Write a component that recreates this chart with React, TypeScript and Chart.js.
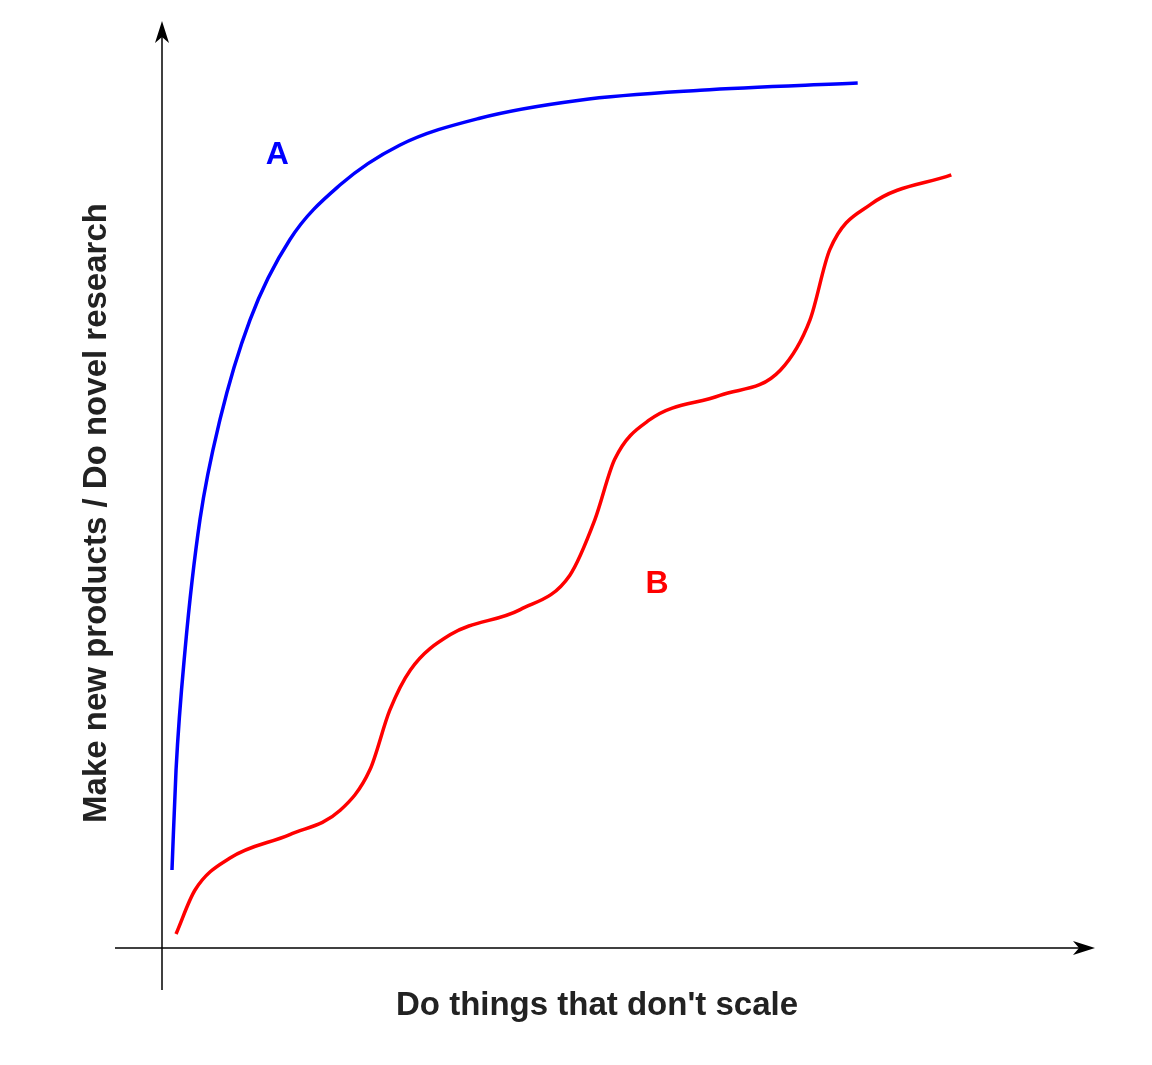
import React, { useEffect, useRef } from "react";
import { Chart, registerables } from "chart.js";
Chart.register(...registerables);

const blueX = [1.11, 1.56, 2.56, 4.22, 6.44, 9.78, 14.2, 19.8, 26.4, 35.3, 46.4, 59.8, 77.3];
const blueY = [8.67, 19.78, 33.1, 47.6, 58.7, 69.8, 78.7, 84.8, 89.2, 92.2, 94.2, 95.3, 96.1];
const redX = [1.56, 3.67, 7.56, 14.2, 19.8, 23.1, 25.3, 27.6, 32.0, 39.8, 45.3, 48.1, 50.3, 54.2, 62.0, 68.7, 72.0, 74.2, 78.7, 87.7];
const redY = [1.56, 6.44, 10.0, 12.6, 15.3, 19.8, 26.4, 30.9, 34.8, 37.6, 41.4, 47.6, 54.3, 58.7, 61.4, 64.2, 69.8, 77.6, 82.6, 85.9];
const xTitle = "Do things that don't scale";
const yTitle = "Make new products / Do novel research";
const labels = [
  { text: "A", x: 12.8, y: 88.1, color: "#0000ff" },
  { text: "B", x: 55.0, y: 40.4, color: "#ff0000" },
];

const pts = (xs: number[], ys: number[]) => xs.map((x, i) => ({ x, y: ys[i] }));

const decor = {
  id: "decor",
  afterDraw(chart: any) {
    const ctx = chart.ctx;
    const xs = chart.scales.x, ys = chart.scales.y;
    const ox = xs.getPixelForValue(0), oy = ys.getPixelForValue(0);
    ctx.save();
    ctx.strokeStyle = "#000"; ctx.fillStyle = "#000"; ctx.lineWidth = 1.5;
    ctx.beginPath(); ctx.moveTo(115, oy); ctx.lineTo(1090, oy); ctx.stroke();
    ctx.beginPath(); ctx.moveTo(ox, 990); ctx.lineTo(ox, 26); ctx.stroke();
    ctx.beginPath(); ctx.moveTo(1095, oy); ctx.lineTo(1073, oy - 7); ctx.lineTo(1079, oy); ctx.lineTo(1073, oy + 7); ctx.closePath(); ctx.fill();
    ctx.beginPath(); ctx.moveTo(ox, 21); ctx.lineTo(ox - 7, 43); ctx.lineTo(ox, 37); ctx.lineTo(ox + 7, 43); ctx.closePath(); ctx.fill();
    ctx.fillStyle = "#222";
    ctx.font = "bold 33px 'Liberation Sans', Arial, sans-serif";
    ctx.textAlign = "center"; ctx.textBaseline = "middle";
    ctx.fillText(xTitle, 597, 1006);
    ctx.save(); ctx.translate(97, 513); ctx.rotate(-Math.PI / 2); ctx.fillText(yTitle, 0, 0); ctx.restore();
    ctx.font = "bold 32px 'Liberation Sans', Arial, sans-serif";
    for (const l of labels) { ctx.fillStyle = l.color; ctx.fillText(l.text, xs.getPixelForValue(l.x), ys.getPixelForValue(l.y)); }
    ctx.restore();
  },
};

export default function App() {
  const ref = useRef<HTMLCanvasElement>(null);
  useEffect(() => {
    const c = new Chart(ref.current!, {
      type: "scatter",
      data: {
        datasets: [
          { data: pts(blueX, blueY), showLine: true, borderColor: "#0000ff", borderWidth: 3.5, pointRadius: 0, cubicInterpolationMode: "monotone" },
          { data: pts(redX, redY), showLine: true, borderColor: "#ff0000", borderWidth: 3.5, pointRadius: 0, cubicInterpolationMode: "monotone" },
        ],
      } as any,
      options: {
        animation: false, responsive: false,
        layout: { padding: { left: 162, right: 90, top: 48, bottom: 117 } },
        plugins: { legend: { display: false }, tooltip: { enabled: false } },
        scales: {
          x: { type: "linear", min: 0, max: 100, display: false },
          y: { type: "linear", min: 0, max: 100, display: false },
        },
      },
      plugins: [decor],
    });
    return () => c.destroy();
  }, []);
  return (
    <div style={{ position: "absolute", left: 0, top: 0, background: "#fff" }}>
      <canvas ref={ref} width={1152} height={1065} style={{ width: 1152, height: 1065 }} />
    </div>
  );
}
